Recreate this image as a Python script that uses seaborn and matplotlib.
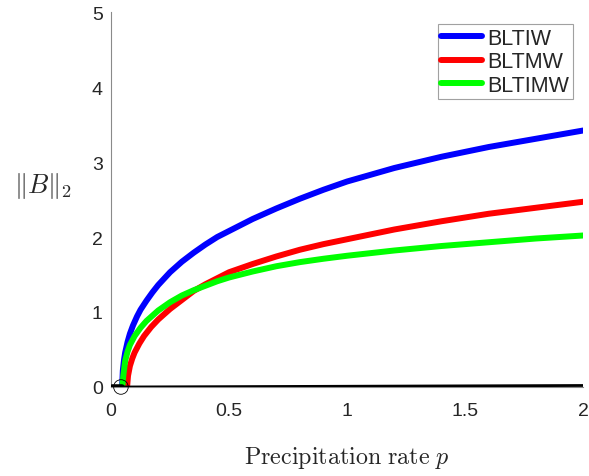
import numpy as np
import pandas as pd
import matplotlib
matplotlib.use("Agg")
import matplotlib.pyplot as plt
import seaborn as sns

# ── values ──
p_bltiw = [0.047, 0.05, 0.055, 0.06, 0.07, 0.08, 0.093, 0.11, 0.125, 0.15, 0.175,
           0.2, 0.25, 0.3, 0.35, 0.4, 0.45, 0.5, 0.6, 0.7, 0.8, 0.9, 1.0, 1.2,
           1.4, 1.6, 1.8, 2.0]
b_bltiw = [0.0, 0.22, 0.36, 0.46, 0.6, 0.71, 0.82, 0.94, 1.03, 1.15, 1.26,
           1.36, 1.53, 1.67, 1.79, 1.9, 2.0, 2.08, 2.24, 2.38, 2.51, 2.63, 2.74, 2.92,
           3.07, 3.2, 3.31, 3.42]

p_bltmw = [0.068, 0.072, 0.08, 0.09, 0.1, 0.12, 0.14, 0.17, 0.2, 0.25, 0.3,
           0.35, 0.4, 0.45, 0.5, 0.6, 0.7, 0.8, 0.9, 1.0, 1.2, 1.4, 1.6, 1.8, 2.0]
b_bltmw = [0.0, 0.15, 0.28, 0.38, 0.46, 0.58, 0.68, 0.8, 0.9, 1.04, 1.16,
           1.28, 1.37, 1.45, 1.53, 1.64, 1.74, 1.83, 1.905, 1.97, 2.1, 2.21, 2.31, 2.39, 2.47]

p_bltimw = [0.048, 0.052, 0.06, 0.07, 0.08, 0.1, 0.125, 0.15, 0.2, 0.25, 0.3,
            0.35, 0.4, 0.45, 0.5, 0.6, 0.7, 0.8, 0.9, 1.0, 1.2, 1.4, 1.6, 1.8, 2.0]
b_bltimw = [0.0, 0.15, 0.35, 0.47, 0.56, 0.68, 0.79, 0.88, 1.02, 1.13, 1.22,
            1.29, 1.35, 1.41, 1.46, 1.54, 1.61, 1.665, 1.71, 1.75, 1.82, 1.88, 1.93, 1.98, 2.02]

# black baseline branch and the short thick piece near the origin
p_base = [0.045, 2.0]
b_base = [0.0, 0.02]
p_stub = [0.005, 0.045]
b_stub = [0.0, 0.0]
p_circle = [0.042]
b_circle = [0.0]

series_names = ["BLTIW", "BLTMW", "BLTIMW"]
series_colors = ["#0000ff", "#ff0000", "#00ff00"]
x_ticks = [0, 0.5, 1, 1.5, 2]
x_tick_labels = ["0", "0.5", "1", "1.5", "2"]
y_ticks = [0, 1, 2, 3, 4, 5]

df = pd.concat([
    pd.DataFrame({"p": p_bltiw, "B": b_bltiw, "model": "BLTIW"}),
    pd.DataFrame({"p": p_bltmw, "B": b_bltmw, "model": "BLTMW"}),
    pd.DataFrame({"p": p_bltimw, "B": b_bltimw, "model": "BLTIMW"}),
], ignore_index=True)

sns.set_style("white")
plt.rcParams["font.family"] = ["Liberation Sans", "DejaVu Sans"]
plt.rcParams["mathtext.fontset"] = "cm"

fig = plt.figure(figsize=(5.89, 4.77), dpi=100)
ax = fig.add_axes([0.1885, 0.1866, 0.99 - 0.1885, 0.9727 - 0.1866])

axis_gray = "#8a8a8a"

sns.lineplot(data=df, x="p", y="B", hue="model", hue_order=series_names,
             palette=dict(zip(series_names, series_colors)), lw=4.3,
             sort=False, estimator=None, ax=ax, zorder=3)

sns.lineplot(x=p_base, y=b_base, color="black", lw=2.0, ax=ax, zorder=4,
             legend=False)
sns.lineplot(x=p_stub, y=b_stub, color="black", lw=4.0, ax=ax, zorder=4,
             legend=False)

ax.scatter(p_circle, b_circle, s=110, facecolors="none", edgecolors="black",
           linewidths=0.6, zorder=5, clip_on=False)

ax.set_xlim(0, 2)
ax.set_ylim(0, 5)
ax.set_xticks(x_ticks)
ax.set_xticklabels(x_tick_labels)
ax.set_yticks(y_ticks)
ax.tick_params(direction="in", length=4, width=0.8, color=axis_gray,
               labelsize=14, labelcolor="#262626")
ax.tick_params(axis="x", pad=11)
ax.tick_params(axis="y", pad=6)

for side in ["top", "right"]:
    ax.spines[side].set_visible(False)
for side in ["left", "bottom"]:
    ax.spines[side].set_color(axis_gray)
    ax.spines[side].set_linewidth(0.8)

ax.set_xlabel(r"$\mathrm{Precipitation\ rate}\ p$", fontsize=17.3, labelpad=0)
ax.xaxis.set_label_coords(0.5, -0.152)
ax.set_ylabel(r"$\|B\|_2$", fontsize=19, rotation=0)
ax.yaxis.set_label_coords(-0.145, 0.5)

handles, labels = ax.get_legend_handles_labels()
leg = ax.legend(handles[:3], labels[:3], loc="upper right",
                bbox_to_anchor=(0.978, 0.967), fontsize=15.5,
                frameon=True, fancybox=False, handlelength=1.9,
                handletextpad=0.25, borderpad=0.15, labelspacing=0.12,
                borderaxespad=0.0)
leg.get_frame().set_edgecolor(axis_gray)
leg.get_frame().set_linewidth(0.8)

fig.savefig("out.png", dpi=100)
plt.close(fig)
